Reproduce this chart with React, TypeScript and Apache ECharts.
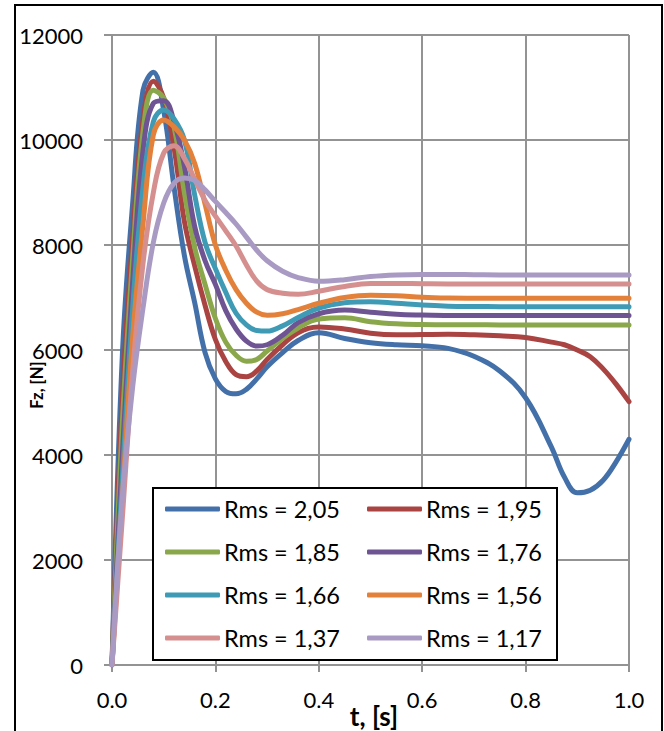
import React, { useEffect, useRef } from "react";
import * as echarts from "echarts";

// Time samples, s
const timeS = [
  0, 0.02, 0.04, 0.06, 0.08, 0.1, 0.12, 0.14, 0.16, 0.18, 0.2, 0.22, 0.24, 0.26,
  0.28, 0.3, 0.33, 0.36, 0.4, 0.45, 0.5, 0.55, 0.6, 0.65, 0.7, 0.75, 0.8, 0.85,
  0.875, 0.9, 0.925, 0.95, 0.975, 1.0,
];

// Vertical force Fz, N, one array per Rms value
const fzRms205 = [
  0, 5900, 8800, 10950, 11290, 10560, 9100, 7800, 6900, 5950, 5450, 5210, 5165, 5250,
  5450, 5680, 5950, 6180, 6330, 6220, 6140, 6100, 6080, 6030, 5880, 5600, 5090, 4150,
  3580, 3280, 3330, 3520, 3870, 4300,
];
const fzRms195 = [
  0, 5100, 8150, 10400, 11120, 10800, 9850, 8450, 7600, 6850, 6200, 5780, 5530, 5490,
  5600, 5820, 6100, 6330, 6440, 6400, 6320, 6290, 6295, 6300, 6290, 6270, 6240, 6150,
  6100, 6000, 5873, 5640, 5350, 5016,
];
const fzRms185 = [
  0, 4600, 7750, 10150, 10950, 10800, 10250, 9000, 7950, 7250, 6600, 6150, 5900, 5785,
  5820, 5980, 6220, 6420, 6590, 6615, 6540, 6500, 6485, 6480, 6480, 6478, 6477, 6477,
  6477, 6477, 6477, 6477, 6477, 6477,
];
const fzRms176 = [
  0, 4000, 7300, 9800, 10700, 10750, 10350, 9500, 8350, 7700, 7250, 6750, 6400, 6170,
  6075, 6100, 6280, 6520, 6690, 6760, 6720, 6680, 6665, 6658, 6655, 6655, 6655, 6655,
  6655, 6655, 6655, 6655, 6655, 6655,
];
const fzRms166 = [
  0, 3550, 6800, 9100, 10350, 10570, 10400, 10000, 8950, 8050, 7550, 7100, 6700, 6480,
  6370, 6360, 6460, 6620, 6800, 6900, 6920, 6890, 6855, 6835, 6828, 6826, 6826, 6826,
  6826, 6826, 6826, 6826, 6826, 6826,
];
const fzRms156 = [
  0, 3200, 6250, 8400, 10100, 10380, 10250, 10000, 9550, 8780, 8000, 7520, 7150, 6890,
  6720, 6660, 6690, 6770, 6890, 7000, 7045, 7035, 7005, 6990, 6986, 6985, 6985, 6985,
  6985, 6985, 6985, 6985, 6985, 6985,
];
const fzRms137 = [
  0, 2800, 5600, 7650, 9000, 9750, 9890, 9650, 9250, 8850, 8550, 8270, 7980, 7620,
  7310, 7150, 7080, 7060, 7120, 7210, 7265, 7268, 7262, 7258, 7258, 7258, 7258, 7258,
  7258, 7258, 7258, 7258, 7258, 7258,
];
const fzRms117 = [
  0, 3200, 5300, 6800, 8050, 8800, 9180, 9277, 9230, 9050, 8830, 8620, 8400, 8150,
  7900, 7700, 7500, 7380, 7310, 7340, 7400, 7430, 7440, 7440, 7435, 7430, 7430, 7430,
  7430, 7430, 7430, 7430, 7430, 7430,
];

const rmsLabels = [
  "Rms = 2,05",
  "Rms = 1,95",
  "Rms = 1,85",
  "Rms = 1,76",
  "Rms = 1,66",
  "Rms = 1,56",
  "Rms = 1,37",
  "Rms = 1,17",
];

const lineColors = [
  "#4470a9",
  "#aa4442",
  "#8aa84b",
  "#6f5493",
  "#3f9bb5",
  "#e3813a",
  "#d68f8f",
  "#a99ac3",
];

const FONT = "Lato, 'Open Sans', sans-serif";
const GRID_COLOR = "#939393";

export default function App() {
  const ref = useRef<HTMLDivElement>(null);

  useEffect(() => {
    if (!ref.current) return;
    const chart = echarts.init(ref.current, undefined, { renderer: "svg" });
    const curves = [
      fzRms205,
      fzRms195,
      fzRms185,
      fzRms176,
      fzRms166,
      fzRms156,
      fzRms137,
      fzRms117,
    ];

    const series = curves.map((vals, i) => ({
      name: rmsLabels[i],
      type: "line",
      data: timeS.map((t, k) => [t, vals[k]]),
      showSymbol: false,
      symbol: "none",
      smooth: 0.4,
      lineStyle: { width: 5, color: lineColors[i], cap: "round", join: "round" },
      itemStyle: { color: lineColors[i] },
      z: 2,
    }));

    const legendBase = {
      orient: "vertical",
      top: 496,
      itemWidth: 55,
      itemHeight: 5,
      icon: "roundRect",
      itemGap: 17,
      padding: 0,
      selectedMode: false,
      z: 6,
      textStyle: {
        fontFamily: FONT,
        fontSize: 23.5,
        color: "#000",
        lineHeight: 26,
        padding: [0, 0, 0, -1],
      },
    };

    chart.setOption({
      animation: false,
      backgroundColor: "#fff",
      grid: { left: 112, top: 35, width: 517, height: 630, containLabel: false },
      xAxis: {
        type: "value",
        min: 0,
        max: 1,
        interval: 0.2,
        axisLine: { show: true, lineStyle: { color: GRID_COLOR, width: 2 } },
        axisTick: { show: true, length: 7, lineStyle: { color: GRID_COLOR, width: 2 } },
        splitLine: { show: true, lineStyle: { color: GRID_COLOR, width: 2 } },
        axisLabel: {
          margin: 23,
          fontFamily: FONT,
          fontSize: 22,
          color: "#000",
          formatter: (v: number) => v.toFixed(1),
        },
      },
      yAxis: {
        type: "value",
        min: 0,
        max: 12000,
        interval: 2000,
        axisLine: { show: true, lineStyle: { color: GRID_COLOR, width: 2 } },
        axisTick: { show: true, length: 8, lineStyle: { color: GRID_COLOR, width: 2 } },
        splitLine: { show: true, lineStyle: { color: GRID_COLOR, width: 2 } },
        axisLabel: {
          margin: 29,
          fontFamily: FONT,
          fontSize: 22,
          color: "#000",
          formatter: (v: number) => String(v),
        },
      },
      legend: [
        { ...legendBase, left: 165, data: rmsLabels.filter((_, i) => i % 2 === 0) },
        { ...legendBase, left: 367, data: rmsLabels.filter((_, i) => i % 2 === 1) },
      ],
      graphic: [
        {
          type: "rect",
          z: 10,
          silent: true,
          shape: { x: 15, y: 5, width: 647, height: 745 },
          style: { fill: "none", stroke: "#000", lineWidth: 2 },
        },
        {
          type: "rect",
          z: 3,
          silent: true,
          shape: { x: 153, y: 488, width: 404, height: 172 },
          style: { fill: "#fff", stroke: "#000", lineWidth: 2 },
        },
        {
          type: "text",
          z: 5,
          x: 37,
          y: 385,
          rotation: Math.PI / 2,
          style: {
            text: "Fz, [N]",
            fontFamily: FONT,
            fontWeight: "bold",
            fontSize: 16.5,
            fill: "#000",
            align: "center",
            verticalAlign: "middle",
          },
        },
        {
          type: "text",
          z: 5,
          x: 374,
          y: 716,
          style: {
            text: "t, [s]",
            fontFamily: FONT,
            fontWeight: "bold",
            fontSize: 26,
            fill: "#000",
            align: "center",
            verticalAlign: "middle",
          },
        },
      ],
      series,
    });

    return () => chart.dispose();
  }, []);

  return (
    <div
      ref={ref}
      style={{
        position: "fixed",
        left: 0,
        top: 0,
        width: 664,
        height: 731,
        background: "#fff",
      }}
    />
  );
}
